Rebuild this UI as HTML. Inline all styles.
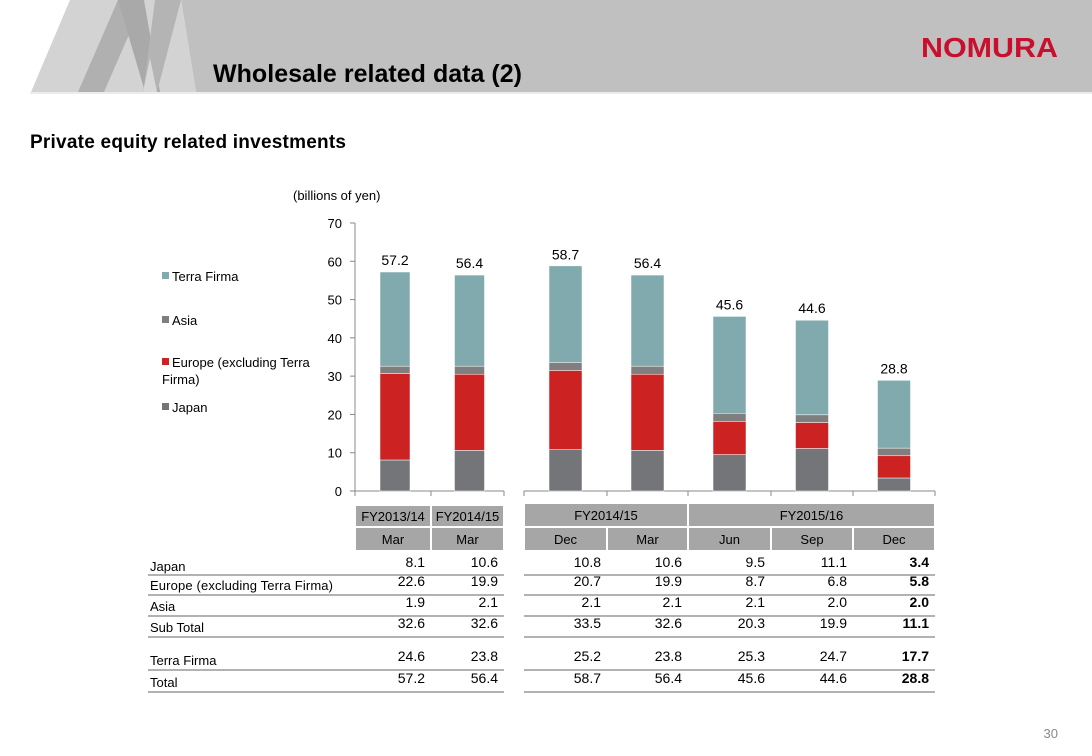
<!DOCTYPE html>
<html><head><meta charset="utf-8"><style>
body{margin:0;width:1092px;height:756px;overflow:hidden;background:#fff;font-family:"Liberation Sans",Arial,sans-serif}
svg{display:block}
text{font-family:"Liberation Sans",Arial,sans-serif}
</style></head><body>
<svg id="s" width="1092" height="756">
<g>
<polygon points="181,0 1092,0 1092,92 196,92" fill="#c0c0c0"/>
<polygon points="31,92 70,0 181,0 196,92" fill="#d3d3d3"/>
<polygon points="118,0 144,0 104,92 78,92" fill="#b0b0b0"/>
<polygon points="118,0 144,0 160,92 145,92" fill="#a9a9a9"/>
<polygon points="155,0 181,0 157,92 143,92" fill="#b4b4b4"/>
<polygon points="143,92 157,92 150,58" fill="#d8d8d8"/>
<rect x="30" y="92" width="1062" height="2" fill="#ececec"/>
</g>
<text x="213" y="82" font-size="25" font-weight="bold" fill="#000" textLength="309">Wholesale related data (2)</text>
<text x="921" y="57" font-size="28" font-weight="bold" fill="#c8102e" textLength="137" lengthAdjust="spacingAndGlyphs">NOMURA</text>
<text x="30" y="148" font-size="19" font-weight="bold" textLength="316">Private equity related investments</text>
<text x="293" y="200" font-size="13">(billions of yen)</text>
<g id="chart"></g>
<g id="legend">
<rect x="162" y="272" width="7" height="7" fill="#80aaae"/><text x="172" y="281" font-size="13">Terra Firma</text>
<rect x="162" y="316" width="7" height="7" fill="#7f7f7f"/><text x="172" y="325" font-size="13">Asia</text>
<rect x="162" y="358" width="7" height="7" fill="#cc2222"/><text x="172" y="367" font-size="13">Europe (excluding Terra</text><text x="162" y="384" font-size="13">Firma)</text>
<rect x="162" y="403" width="7" height="7" fill="#737578"/><text x="172" y="412" font-size="13">Japan</text>
</g>
<g id="table"></g>
<text x="1058" y="738" font-size="13" fill="#888" text-anchor="end">30</text>
</svg>
<script>
const categories=["Mar","Mar","Dec","Mar","Jun","Sep","Dec"];
const japan=[8.1,10.6,10.8,10.6,9.5,11.1,3.4];
const europe=[22.6,19.9,20.7,19.9,8.7,6.8,5.8];
const asia=[1.9,2.1,2.1,2.1,2.1,2.0,2.0];
const subTotal=[32.6,32.6,33.5,32.6,20.3,19.9,11.1];
const terraFirma=[24.6,23.8,25.2,23.8,25.3,24.7,17.7];
const total=[57.2,56.4,58.7,56.4,45.6,44.6,28.8];
const yTicks=[0,10,20,30,40,50,60,70];
const NS="http://www.w3.org/2000/svg";
function mk(p,t,a,txt){const e=document.createElementNS(NS,t);for(const k in a)e.setAttribute(k,a[k]);if(txt!==undefined)e.textContent=txt;p.appendChild(e);return e;}
const y=v=>491-v*268/70;
const colL=[355,431,504],colR=[524,607,688,771,853,935];
const slotX=[355,431,524,607,688,771,853];
const slotW=[76,73,83,81,83,82,82];
const cx=i=>slotX[i]+slotW[i]/2;
const g=document.getElementById('chart');
let a=mk(g,'line',{x1:355,y1:223,x2:355,y2:491,stroke:'#888'});

yTicks.forEach(t=>{mk(g,'line',{x1:350,y1:y(t),x2:355,y2:y(t),stroke:'#888'});
 const tx=mk(g,'text',{x:342,y:y(t)+5,'font-size':13,'text-anchor':'end'},t);
 });
mk(g,'line',{x1:355,y1:491,x2:504,y2:491,stroke:'#888'});
mk(g,'line',{x1:524,y1:491,x2:935,y2:491,stroke:'#888'});
colL.forEach(x=>mk(g,'line',{x1:x,y1:491,x2:x,y2:496,stroke:'#888'}));
colR.forEach(x=>mk(g,'line',{x1:x,y1:491,x2:x,y2:496,stroke:'#888'}));
const series=[[japan,'#737578','japan'],[europe,'#cc2222','europe'],[asia,'#7f7f7f','asia'],[terraFirma,'#80aaae','terra-firma']];
categories.forEach((c,i)=>{let base=0;const bw=i<2?30:33;const x=cx(i)-bw/2+(i<2?2:0);
 series.forEach(([arr,col,nm])=>{const r=mk(g,'rect',{x:x,y:y(base+arr[i]),width:bw,height:y(base)-y(base+arr[i]),fill:col,stroke:'#fff','stroke-width':0.5});
  base+=arr[i];});
 const l=mk(g,'text',{x:x+bw/2,y:y(total[i])-7,'font-size':14,'text-anchor':'middle'},total[i].toFixed(1));
 });
const t=document.getElementById('table');
function hdr(x1,x2,y1,h,txt){mk(t,'rect',{x:x1+1,y:y1,width:x2-x1-2,height:h,fill:'#a6a6a6'});
 const e=mk(t,'text',{x:(x1+x2)/2,y:y1+h/2+5,'font-size':13,'text-anchor':'middle'},txt);
 }
hdr(355,431,506,20,'FY2013/14');hdr(431,504,506,20,'FY2014/15');hdr(524,688,504,22,'FY2014/15');hdr(688,935,504,22,'FY2015/16');
categories.forEach((c,i)=>hdr(slotX[i],slotX[i]+slotW[i],528,22,c));
const rows=[["Japan",japan,567,575],["Europe (excluding Terra Firma)",europe,586,595],["Asia",asia,607,616],["Sub Total",subTotal,628,637],["Terra Firma",terraFirma,661,670],["Total",total,683,692]];
rows.forEach(([lab,arr,ty,ly])=>{const e=mk(t,'text',{x:150,y:ty+4,'font-size':13,'textLength':lab.length>20?183:undefined},lab);
 if(lab.length<=20)e.removeAttribute('textLength');
 
 mk(t,'line',{x1:148,y1:ly,x2:504,y2:ly,stroke:'#999','stroke-width':1.5});
 mk(t,'line',{x1:524,y1:ly,x2:935,y2:ly,stroke:'#999','stroke-width':1.5});
 arr.forEach((v,i)=>{const n=mk(t,'text',{x:slotX[i]+slotW[i]-6,y:ty,'font-size':14,'text-anchor':'end','font-weight':i==6?'bold':'normal'},v.toFixed(1));
  });});
</script>
</body></html>
